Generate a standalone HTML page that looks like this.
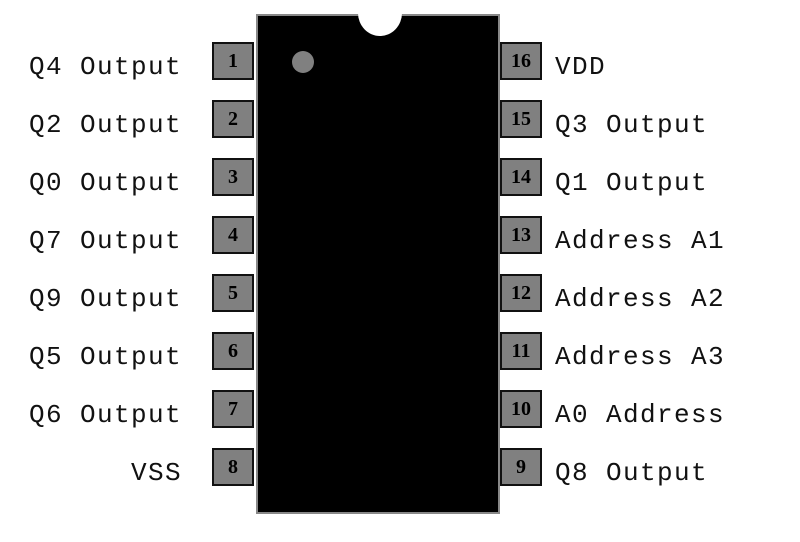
<!DOCTYPE html>
<html><head><style>
body{margin:0;width:800px;height:542px;background:#fff;position:relative;overflow:hidden;font-family:"Liberation Mono",monospace;}
.chip{position:absolute;left:256px;top:14px;width:240px;height:496px;background:#000;border:2px solid #888;box-sizing:content-box;}
.notch{position:absolute;left:358px;top:-10px;width:44px;height:46px;border-radius:50%;background:#fff;}
.dot{position:absolute;left:292px;top:51px;width:22px;height:22px;border-radius:50%;background:#808080;}
.pin{position:absolute;width:38px;height:34px;background:#808080;border:2px solid #111;font:bold 20px "Liberation Serif",serif;text-align:center;line-height:34px;color:#000;}
.lab{position:absolute;font-size:26px;letter-spacing:1.4px;line-height:30px;color:#111;white-space:pre;}
.l{right:618px;text-align:right;}
.r{left:555px;}
</style></head><body>
<div class="chip"></div>
<div class="notch"></div>
<div class="dot"></div>
<div class="pin" style="left:212px;top:42px">1</div>
<div class="pin" style="left:212px;top:100px">2</div>
<div class="pin" style="left:212px;top:158px">3</div>
<div class="pin" style="left:212px;top:216px">4</div>
<div class="pin" style="left:212px;top:274px">5</div>
<div class="pin" style="left:212px;top:332px">6</div>
<div class="pin" style="left:212px;top:390px">7</div>
<div class="pin" style="left:212px;top:448px">8</div>
<div class="pin" style="left:500px;top:42px">16</div>
<div class="pin" style="left:500px;top:100px">15</div>
<div class="pin" style="left:500px;top:158px">14</div>
<div class="pin" style="left:500px;top:216px">13</div>
<div class="pin" style="left:500px;top:274px">12</div>
<div class="pin" style="left:500px;top:332px">11</div>
<div class="pin" style="left:500px;top:390px">10</div>
<div class="pin" style="left:500px;top:448px">9</div>
<div class="lab l" style="top:52px">Q4 Output</div>
<div class="lab l" style="top:110px">Q2 Output</div>
<div class="lab l" style="top:168px">Q0 Output</div>
<div class="lab l" style="top:226px">Q7 Output</div>
<div class="lab l" style="top:284px">Q9 Output</div>
<div class="lab l" style="top:342px">Q5 Output</div>
<div class="lab l" style="top:400px">Q6 Output</div>
<div class="lab l" style="top:458px">VSS</div>
<div class="lab r" style="top:52px">VDD</div>
<div class="lab r" style="top:110px">Q3 Output</div>
<div class="lab r" style="top:168px">Q1 Output</div>
<div class="lab r" style="top:226px">Address A1</div>
<div class="lab r" style="top:284px">Address A2</div>
<div class="lab r" style="top:342px">Address A3</div>
<div class="lab r" style="top:400px">A0 Address</div>
<div class="lab r" style="top:458px">Q8 Output</div>
</body></html>
